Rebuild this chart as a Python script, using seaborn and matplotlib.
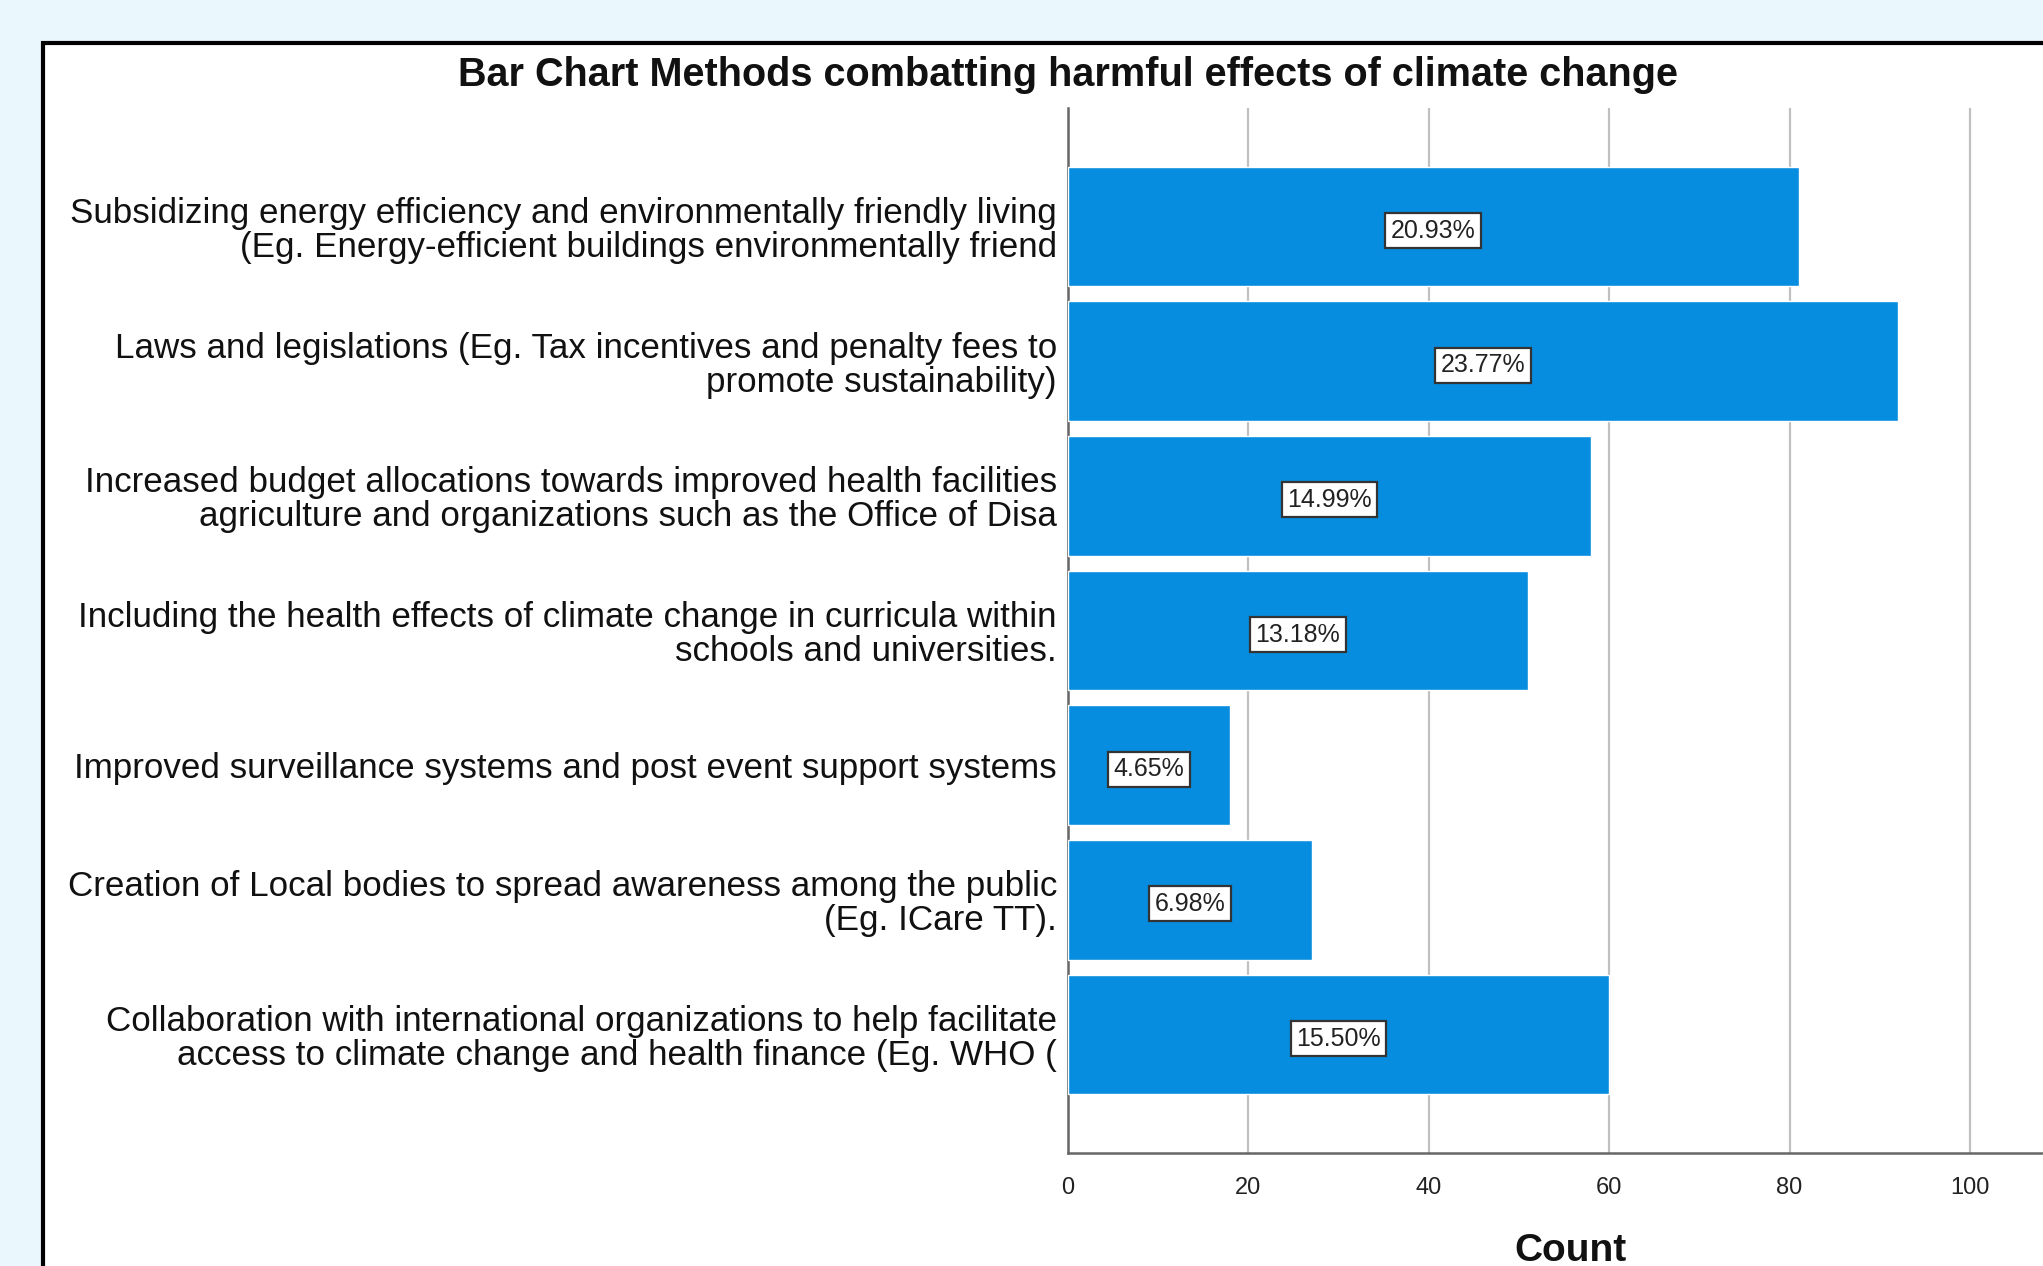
import matplotlib
matplotlib.use("Agg")
import matplotlib.pyplot as plt
import seaborn as sns
import pandas as pd
from matplotlib.patches import Rectangle

# Chart data
categories = [
    "Subsidizing energy efficiency and environmentally friendly living\n(Eg. Energy-efficient buildings environmentally friend",
    "Laws and legislations (Eg. Tax incentives and penalty fees to\npromote sustainability)",
    "Increased budget allocations towards improved health facilities\nagriculture and organizations such as the Office of Disa",
    "Including the health effects of climate change in curricula within\nschools and universities.",
    "Improved surveillance systems and post event support systems",
    "Creation of Local bodies to spread awareness among the public\n(Eg. ICare TT).",
    "Collaboration with international organizations to help facilitate\naccess to climate change and health finance (Eg. WHO (",
]
counts = [81, 92, 58, 51, 18, 27, 60]
percent_labels = ["20.93%", "23.77%", "14.99%", "13.18%", "4.65%", "6.98%", "15.50%"]
x_ticks = [0, 20, 40, 60, 80, 100]

title = "Bar Chart Methods combatting harmful effects of climate change"
bar_color = "#078ddf"

df = pd.DataFrame({"method": categories, "count": counts})

sns.set_style("white")
plt.rcParams["font.family"] = ["Liberation Sans", "DejaVu Sans"]

W, H = 2043, 1266
fig = plt.figure(figsize=(W / 100, H / 100), dpi=100)
fig.patch.set_facecolor("#eaf7fd")

# white panel with black frame running off the right/bottom edge
panel = Rectangle((43 / W, -0.2), 1.2, 1 - 43 / H + 0.2, transform=fig.transFigure,
                  facecolor="white", edgecolor="black", linewidth=3, zorder=-5)
fig.patches.append(panel)

ax = fig.add_axes([1068 / W, 1 - 1153 / H, 1 - 1068 / W, (1153 - 108) / H])
ax.set_zorder(2)
ax.set_facecolor("none")

sns.barplot(data=df, x="count", y="method", orient="h", color=bar_color,
            saturation=1, width=0.89, ax=ax, zorder=3)

ax.set_xlim(0, 108.1)
ax.set_ylim(6.88, -0.88)
ax.set_xticks(x_ticks)
ax.xaxis.grid(True, color="#c0c0c0", linewidth=1.6, zorder=0)
ax.set_axisbelow(True)

for s in ["top", "right"]:
    ax.spines[s].set_visible(False)
for s in ["left", "bottom"]:
    ax.spines[s].set_color("#666666")
    ax.spines[s].set_linewidth(1.8)

ax.tick_params(axis="x", length=0, pad=17, labelsize=17, labelcolor="#222222")
ax.tick_params(axis="y", length=0, pad=8, labelsize=25.2, labelcolor="#111111")
for lab in ax.get_yticklabels():
    lab.set_linespacing(1.04)
ax.set_xlabel("")
ax.set_ylabel("")

# percentage boxes in the middle of each bar
for i, (c, p) in enumerate(zip(counts, percent_labels)):
    ax.text(c / 2, i + 0.03, p, ha="center", va="center", fontsize=18, color="#222222",
            zorder=5, bbox=dict(boxstyle="square,pad=0.22", facecolor="white",
                                edgecolor="#333333", linewidth=1.6))

fig.text(1068 / W, 1 - 75 / H, title, ha="center", va="center",
         fontsize=28.5, fontweight="bold", color="#111111")
fig.text(1570 / W, 1 - 1251 / H, "Count", ha="center", va="center",
         fontsize=28, fontweight="bold", color="#111111")

fig.savefig("out.png", dpi=100, facecolor=fig.get_facecolor())
